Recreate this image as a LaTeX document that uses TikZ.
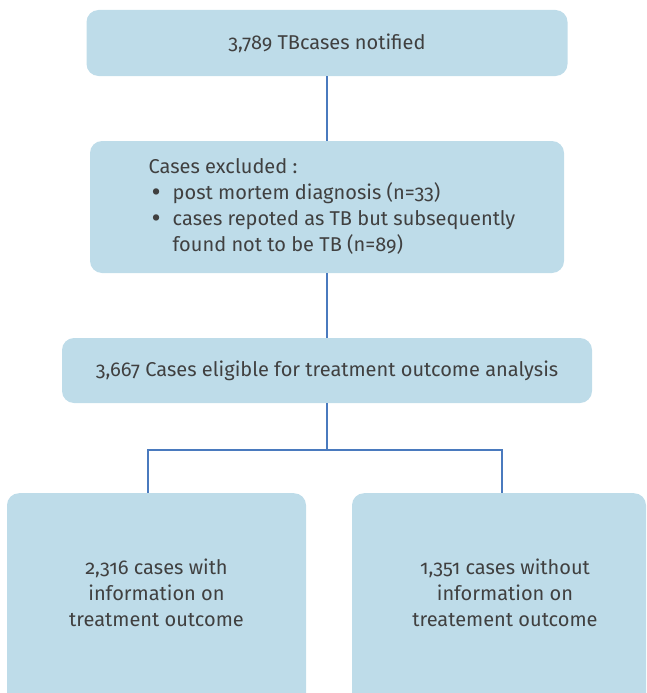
\documentclass[tikz,border=0pt]{standalone}
\usepackage{fontspec}
\setmainfont{Fira Sans}[Numbers=OldStyle]
\usetikzlibrary{positioning}
\definecolor{boxblue}{RGB}{190,220,233}
\definecolor{linkblue}{RGB}{74,122,190}
\definecolor{textgrey}{RGB}{64,64,64}
\newcommand{\listdot}{\hspace{3pt}\raisebox{-2.5pt}{\fontsize{28}{26}\selectfont\textbullet}}
\tikzset{
  flowbox/.style={fill=boxblue, rounded corners=12pt, inner sep=0pt, text=textgrey,
    font=\fontsize{20}{26}\selectfont},
  link/.style={draw=linkblue, line width=1.5pt}
}

\begin{document}
\begin{tikzpicture}[x=1pt,y=-1pt]
\useasboundingbox (0,0) rectangle (646,693);
% boxes
\node[flowbox,minimum width=481pt,minimum height=66pt] (notified) at (327,43) {3,789 TBcases notified};
\node[flowbox,minimum width=474pt,minimum height=132pt] (excluded) at (327,207)
  {\hspace*{10pt}\begin{tabular}{@{}l@{\hspace{12pt}}l@{}}
   \multicolumn{2}{@{}l@{}}{Cases excluded :}\\
   \listdot & post mortem diagnosis (n=33)\\
   \listdot & cases repoted as TB but subsequently\\
   & found not to be TB (n=89)
   \end{tabular}};
\node[flowbox,minimum width=530pt,minimum height=65pt] (eligible) at (327,370.5)
  {3,667 Cases eligible for treatment outcome analysis};
\node[flowbox,anchor=north,minimum width=299pt,text height=107pt,text depth=133pt] (withinfo) at (156.5,493)
  {\begin{tabular}{@{}c@{}}2,316 cases with\\ information on\\ treatment outcome\end{tabular}};
\node[flowbox,anchor=north,minimum width=294pt,text height=107pt,text depth=133pt] (withoutinfo) at (499,493)
  {\hspace*{12pt}\begin{tabular}{@{}c@{}}1,351 cases without\\ information on\\ treatement outcome\end{tabular}};
% connectors
\coordinate (fork) at (327,450);
\draw[link] (notified) -- (excluded);
\draw[link] (excluded) -- (eligible);
\draw[link] (eligible) -- (fork);
\draw[link] ([xshift=-8.5pt]withinfo.north) |- (fork) -| ([xshift=3pt]withoutinfo.north);
\end{tikzpicture}
\end{document}
